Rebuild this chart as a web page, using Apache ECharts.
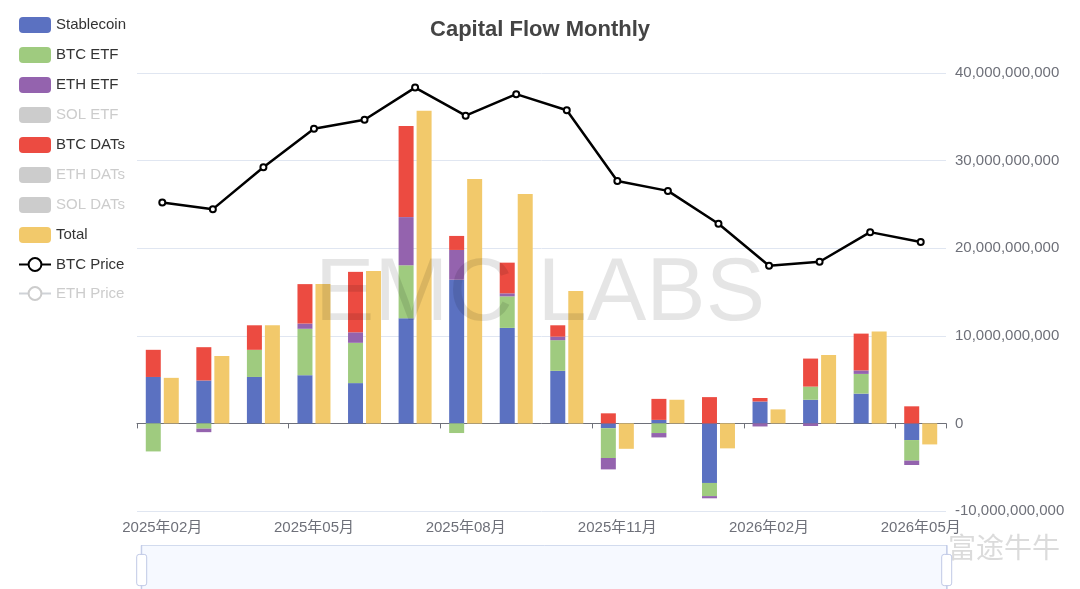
<!DOCTYPE html>
<html>
<head>
<meta charset="utf-8">
<title>Capital Flow Monthly</title>
<script src="https://cdn.jsdelivr.net/npm/echarts@6/dist/echarts.min.js"></script>
<style>
  html, body { margin: 0; padding: 0; background: #fff; }
  #main { width: 1080px; height: 589px; }
</style>
</head>
<body>
<div id="main"></div>
<script>
// months on the x axis
const months = [
    '2025年02月', '2025年03月', '2025年04月', '2025年05月', '2025年06月', '2025年07月',
    '2025年08月', '2025年09月', '2025年10月', '2025年11月', '2025年12月', '2026年01月',
    '2026年02月', '2026年03月', '2026年04月', '2026年05月'
];

// monthly net flows, USD
const stablecoin = [5.3e9, 4.9e9, 5.3e9, 5.5e9, 4.6e9, 12.0e9, 16.4e9, 10.9e9, 6.0e9, -0.55e9, 0.4e9, -6.8e9, 2.5e9, 2.7e9, 3.4e9, -1.9e9];
const btcEtf = [-3.2e9, -0.6e9, 3.1e9, 5.3e9, 4.6e9, 6.05e9, -1.1e9, 3.6e9, 3.5e9, -3.4e9, -1.1e9, -1.5e9, 0, 1.5e9, 2.25e9, -2.35e9];
const ethEtf = [0, -0.4e9, 0, 0.6e9, 1.2e9, 5.5e9, 3.4e9, 0.35e9, 0.4e9, -1.3e9, -0.5e9, -0.25e9, -0.35e9, -0.3e9, 0.4e9, -0.5e9];
const btcDats = [3.1e9, 3.8e9, 2.8e9, 4.5e9, 6.9e9, 10.4e9, 1.6e9, 3.5e9, 1.3e9, 1.15e9, 2.4e9, 3.0e9, 0.4e9, 3.2e9, 4.2e9, 1.95e9];
// hidden in the legend, values not visible in the picture
const solEtf = [];
const ethDats = [];
const solDats = [];
const total = [5.2e9, 7.7e9, 11.2e9, 15.9e9, 17.4e9, 35.7e9, 27.9e9, 26.2e9, 15.1e9, -2.9e9, 2.7e9, -2.85e9, 1.6e9, 7.8e9, 10.5e9, -2.4e9];

// month-end prices, USD
const btcPrice = [84500, 82700, 94200, 104700, 107200, 116000, 108300, 114200, 109800, 90400, 87700, 78700, 67200, 68300, 76400, 73700];
const ethPrice = [];

const yTicks = { min: -1e10, max: 4e10, interval: 1e10 };

const chart = echarts.init(document.getElementById('main'));

const FONT = 'Helvetica, "Liberation Sans", "Noto Sans CJK SC", sans-serif';

function barSeries(name, data, color) {
    return {
        name: name,
        type: 'bar',
        stack: 'flow',
        data: data,
        barWidth: 15,
        barGap: '20%',
        itemStyle: { color: color }
    };
}

const option = {
    animation: false,
    textStyle: { fontFamily: FONT },
    title: {
        text: 'Capital Flow Monthly',
        left: 'center',
        top: 14,
        textStyle: { fontSize: 22, fontWeight: 'bold', color: '#444' }
    },
    legend: {
        orient: 'vertical',
        left: 13,
        top: 12,
        itemWidth: 32,
        itemHeight: 16,
        itemGap: 14,
        inactiveColor: '#ccc',
        textStyle: { fontSize: 15, color: '#333' },
        selected: {
            'SOL ETF': false,
            'ETH DATs': false,
            'SOL DATs': false,
            'ETH Price': false
        }
    },
    grid: {
        left: 137,
        right: 134,
        top: 73,
        bottom: 78
    },
    xAxis: [
        {
            // labels at the bottom
            type: 'category',
            data: months,
            axisLine: { show: false, onZero: false },
            axisTick: { show: false },
            axisLabel: { interval: 2, fontSize: 15, color: '#6E7079', margin: 9 }
        },
        {
            // axis line and ticks sit on zero
            type: 'category',
            data: months,
            position: 'bottom',
            axisLine: { show: true, onZero: true, onZeroAxisIndex: 0, lineStyle: { color: '#6E7079' } },
            axisTick: { show: true, interval: 2 },
            axisLabel: { show: false }
        }
    ],
    yAxis: [
        {
            type: 'value',
            position: 'right',
            min: yTicks.min,
            max: yTicks.max,
            interval: yTicks.interval,
            axisLine: { show: false },
            axisTick: { show: false },
            axisLabel: {
                fontSize: 15,
                color: '#6E7079',
                margin: 9,
                formatter: v => v.toLocaleString('en-US')
            },
            splitLine: { lineStyle: { color: '#E0E6F1' } }
        },
        {
            type: 'value',
            show: false,
            min: 0,
            max: 120000,
            splitLine: { show: false }
        }
    ],
    dataZoom: [
        {
            type: 'slider',
            xAxisIndex: [0, 1],
            start: 0,
            end: 100,
            left: 140,
            right: 133,
            top: 545,
            height: 50,
            showDetail: false,
            showDataShadow: false,
            moveHandleSize: 0,
            borderColor: '#d2dbee',
            fillerColor: 'rgba(135,175,274,0.08)'
        }
    ],
    graphic: [
        {
            type: 'text',
            left: 'center',
            top: 251,
            z: 100,
            silent: true,
            style: {
                text: 'EMC LABS',
                font: '89px ' + FONT,
                fill: 'rgba(0,0,0,0.1)'
            }
        },
        {
            type: 'text',
            left: 948,
            top: 533,
            z: 100,
            silent: true,
            style: {
                text: '富途牛牛',
                font: '28px "Noto Sans CJK SC", sans-serif',
                fill: 'rgba(190,190,190,0.55)'
            }
        }
    ],
    series: [
        barSeries('Stablecoin', stablecoin, '#5B71C1'),
        barSeries('BTC ETF', btcEtf, '#9FCB7F'),
        barSeries('ETH ETF', ethEtf, '#9463AE'),
        barSeries('SOL ETF', solEtf, '#73C0DE'),
        barSeries('BTC DATs', btcDats, '#EC4B41'),
        barSeries('ETH DATs', ethDats, '#3BA272'),
        barSeries('SOL DATs', solDats, '#FC8452'),
        {
            name: 'Total',
            type: 'bar',
            data: total,
            barWidth: 15,
            barGap: '20%',
            itemStyle: { color: '#F2C96B' }
        },
        {
            name: 'BTC Price',
            type: 'line',
            yAxisIndex: 1,
            data: btcPrice,
            symbol: 'emptyCircle',
            symbolSize: 6,
            itemStyle: { color: '#000', borderWidth: 2 },
            lineStyle: { color: '#000', width: 2.5 },
            z: 5
        },
        {
            name: 'ETH Price',
            type: 'line',
            yAxisIndex: 1,
            data: ethPrice,
            symbol: 'emptyCircle',
            symbolSize: 6,
            itemStyle: { color: '#627EEA' }
        }
    ]
};

chart.setOption(option);
</script>
</body>
</html>
